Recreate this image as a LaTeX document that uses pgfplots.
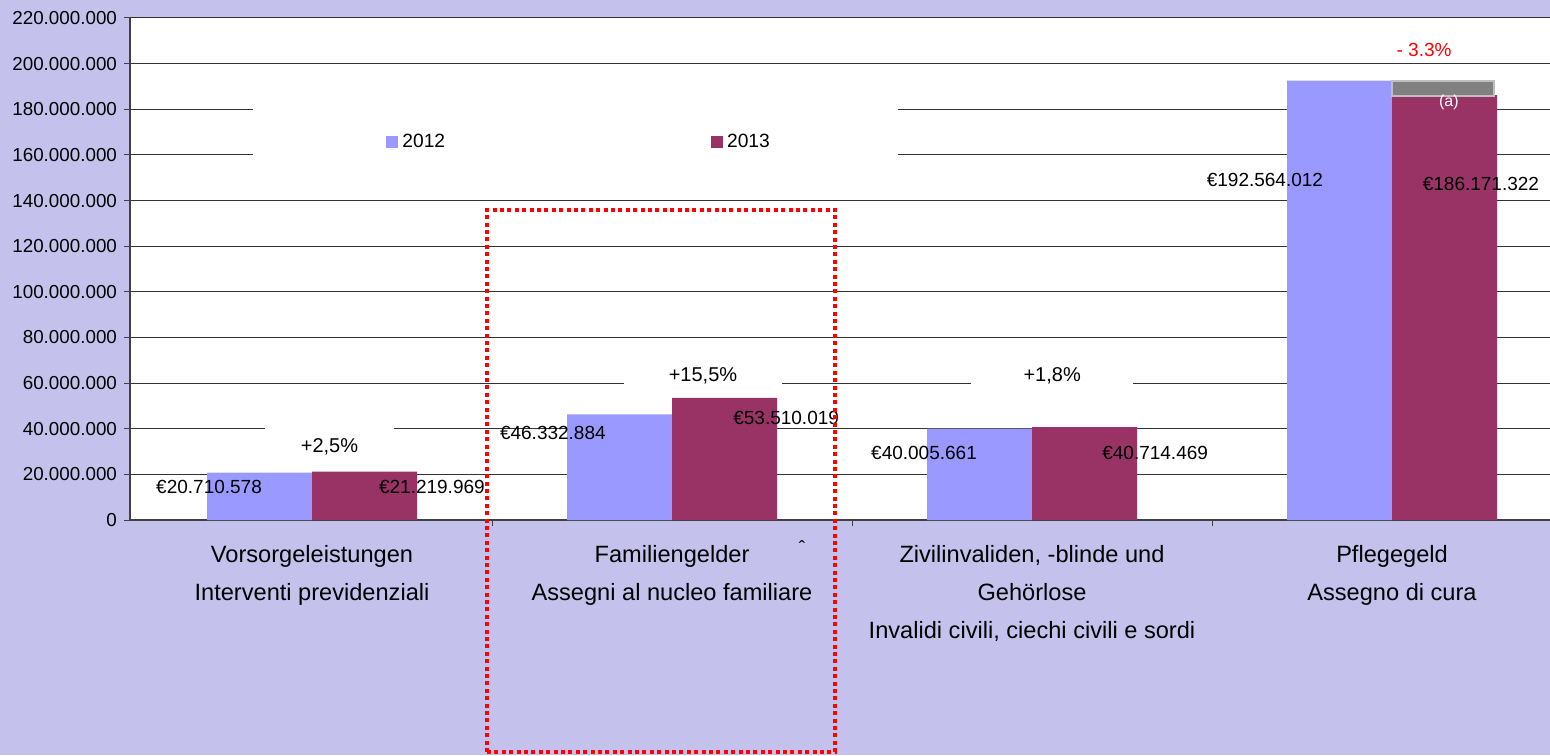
\documentclass[border=0pt]{standalone}
\usepackage{fontspec}
\setmainfont{Liberation Sans}
\usepackage{pgfplots}
\pgfplotsset{compat=1.18}
\definecolor{bgl}{RGB}{196,194,236}
\definecolor{b12}{HTML}{9999FF}
\definecolor{b13}{HTML}{993366}
\tikzset{lbl/.style={font=\fontsize{9.5}{11}\selectfont, inner sep=0pt}}

\begin{document}
\begin{tikzpicture}
\path[use as bounding box] (0,0) rectangle (775pt,377.5pt);
\fill[bgl] (0,0) rectangle (775pt,377.5pt);
\begin{axis}[
  at={(65pt,117.5pt)}, anchor=south west,
  scale only axis, width=710pt, height=251pt,
  xmin=-0.5056, xmax=3.4389, ymin=0, ymax=220,
  clip=false,
  axis background/.style={fill=white},
  axis x line*=bottom, axis y line*=left,
  axis line style={black!75, line width=0.6pt},
  ymajorgrids, grid style={black!80, line width=0.5pt},
  tick align=outside, major tick length=3pt,
  tick style={black!75, line width=0.5pt},
  ytick={0,20,...,220},
  yticklabels={0,20.000.000,40.000.000,60.000.000,80.000.000,100.000.000,120.000.000,140.000.000,160.000.000,180.000.000,200.000.000,220.000.000},
  yticklabel style={font=\fontsize{9.4}{10}\selectfont},
  xtick={0.5,1.5,2.5}, xticklabels={,,},
  extra x ticks={0,1,2,3},
  extra x tick labels={{Vorsorgeleistungen\\Interventi previdenziali},{Familiengelder\\Assegni al nucleo familiare},{Zivilinvaliden, -blinde und\\Gehörlose\\Invalidi civili, ciechi civili e sordi},{Pflegegeld\\Assegno di cura}},
  extra x tick style={major tick length=0pt},
  xticklabel style={anchor=north, yshift=-9pt, align=center, font=\fontsize{11.8}{19}\selectfont},
  legend columns=2,
  legend style={at={(0.1803,0.753)}, anchor=west, draw=none, fill=none, inner sep=0pt,
    font=\fontsize{9.6}{11}\selectfont,
    /tikz/every even column/.append style={column sep=131pt}},
]
\fill[white] (rel axis cs:0.0866,0.7072) rectangle (rel axis cs:0.5408,0.8367);
\addplot[ybar, bar width=0.29167, bar shift=-0.14583, fill=b12, draw=none,
  legend image code/.code={\fill[b12] (0pt,-3pt) rectangle (6pt,3pt);}]
  coordinates {(0,20.710578) (1,46.332884) (2,40.005661) (3,192.564012)};
\addplot[ybar, bar width=0.29167, bar shift=0.14583, fill=b13, draw=none,
  legend image code/.code={\fill[b13] (0pt,-3pt) rectangle (6pt,3pt);}]
  coordinates {(0,21.219969) (1,53.510019) (2,40.714469) (3,186.171322)};
\legend{2012,2013}
% value labels
\node[lbl] at (axis cs:-0.286,14.46) {€20.710.578};
\node[lbl] at (axis cs:0.333,14.46) {€21.219.969};
\node[lbl] at (axis cs:0.669,38.13) {€46.332.884};
\node[lbl] at (axis cs:1.317,44.70) {€53.510.019};
\node[lbl] at (axis cs:1.700,29.36) {€40.005.661};
\node[lbl] at (axis cs:2.342,29.36) {€40.714.469};
\node[lbl] at (axis cs:2.647,149.0) {€192.564.012};
\node[lbl] at (axis cs:3.247,147.25) {€186.171.322};
% change labels
\node[lbl, fill=white, minimum width=64.5pt, minimum height=20pt, font=\fontsize{10}{11}\selectfont] at (axis cs:0.0486,32.0) {+2,5\%};
\node[lbl, fill=white, minimum width=79pt, minimum height=20pt, font=\fontsize{10}{11}\selectfont] at (axis cs:1.086,63.1) {+15,5\%};
\node[lbl, fill=white, minimum width=81pt, minimum height=20pt, font=\fontsize{10}{11}\selectfont] at (axis cs:2.056,63.1) {+1,8\%};
\node[lbl, text=red, font=\fontsize{9.5}{11}\selectfont] at (axis cs:3.089,206.0) {- 3.3\%};
\draw[draw=black!25, fill=black!50, line width=1pt] (axis cs:3.0,192.4) rectangle (axis cs:3.283,185.8);
\node[lbl, text=white, font=\fontsize{8}{10}\selectfont] at (axis cs:3.158,183.2) {(a)};
\node[lbl] at (axis cs:1.361,-12.3) {ˆ};
\end{axis}
\draw[red, line width=2pt, dash pattern=on 2pt off 1.7pt] (243.5pt,1.5pt) rectangle (417.5pt,272.5pt);
\end{tikzpicture}
\end{document}
